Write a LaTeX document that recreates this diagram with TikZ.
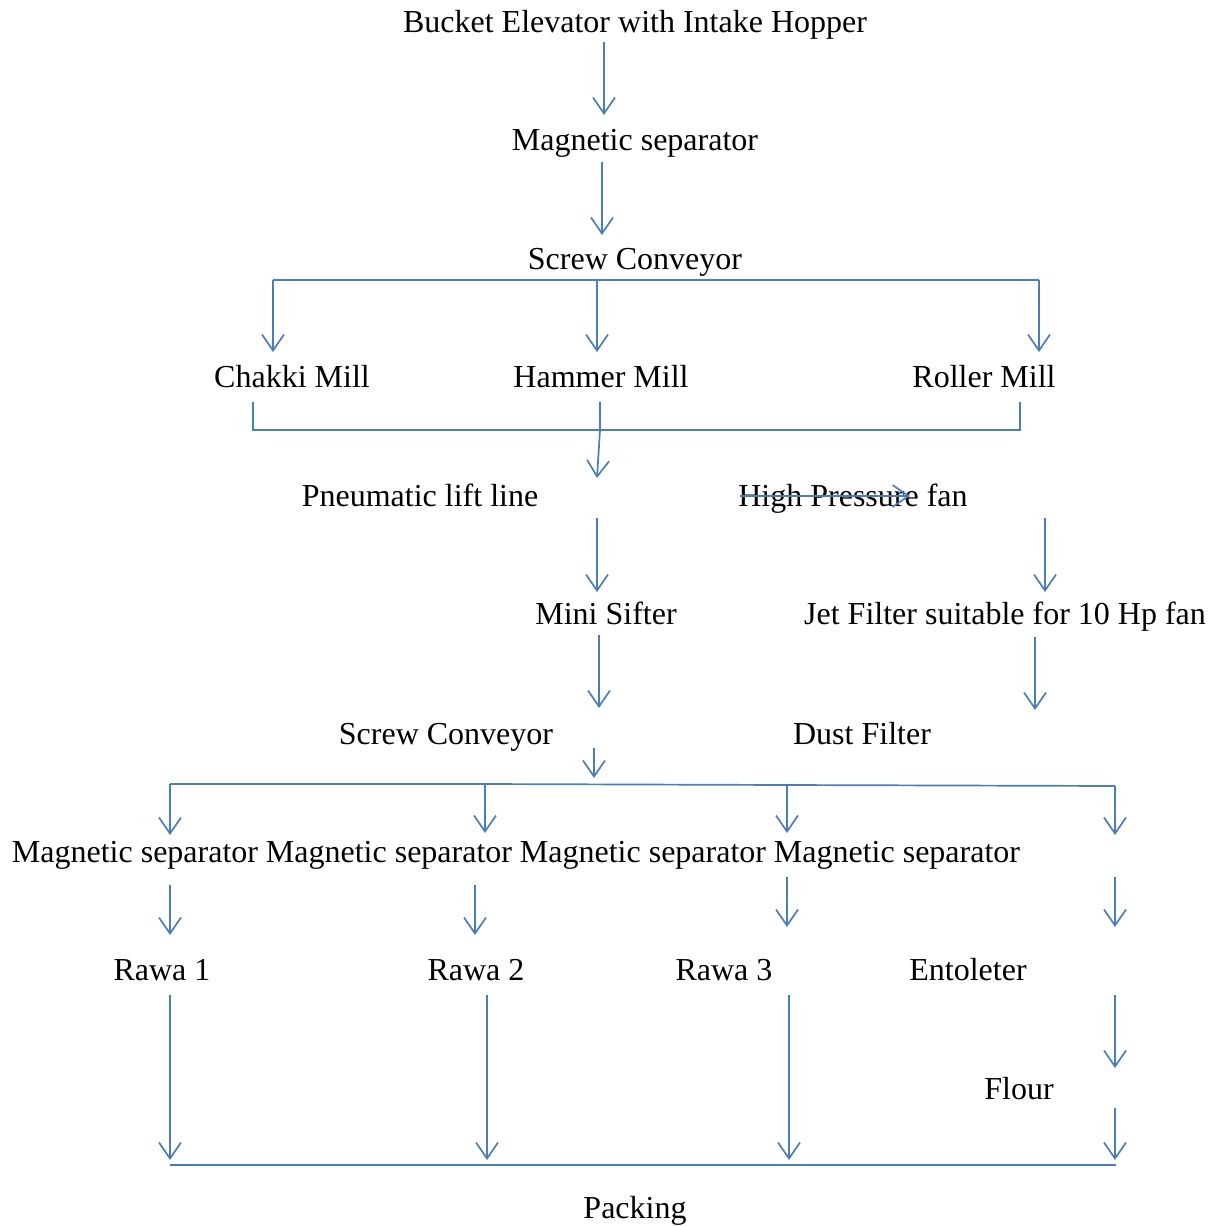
\documentclass[tikz,border=0pt]{standalone}
\usepackage{fontspec}
\setmainfont{Liberation Serif}
\usetikzlibrary{arrows.meta}
\definecolor{flowblue}{RGB}{74,126,187}

\begin{document}
\begin{tikzpicture}[x=1pt,y=-1pt]
\tikzset{
  stepnode/.style={anchor=base,inner sep=0pt,font=\fontsize{32}{38}\selectfont},
  flowline/.style={draw=flowblue,line width=1.7pt,line cap=butt},
  flowarrow/.style={flowline,-{Straight Barb[length=16pt,width=22pt,line width=1.7pt]}}
}
\useasboundingbox (0,0) rectangle (1212,1226);
% process steps
\node[stepnode] (n_bucket) at (635,32) {Bucket Elevator with Intake Hopper};
\node[stepnode] (n_magsep) at (635,150) {Magnetic separator};
\node[stepnode] (n_screw1) at (635,269) {Screw Conveyor};
\node[stepnode] (n_chakki) at (292,387) {Chakki Mill};
\node[stepnode] (n_hammer) at (601,387) {Hammer Mill};
\node[stepnode] (n_roller) at (984,387) {Roller Mill};
\node[stepnode] (n_pneu) at (420,506) {Pneumatic lift line};
\node[stepnode] (n_fan) at (853,506) {High Pressure fan};
\node[stepnode] (n_sifter) at (606,624) {Mini Sifter};
\node[stepnode] (n_jet) at (1005,624) {Jet Filter suitable for 10 Hp fan};
\node[stepnode] (n_screw2) at (446,744) {Screw Conveyor};
\node[stepnode] (n_dust) at (862,744) {Dust Filter};
\node[stepnode] (n_ms1) at (135,862) {Magnetic separator};
\node[stepnode] (n_ms2) at (389,862) {Magnetic separator};
\node[stepnode] (n_ms3) at (643,862) {Magnetic separator};
\node[stepnode] (n_ms4) at (897,862) {Magnetic separator};
\node[stepnode] (n_rawa1) at (162,980) {Rawa 1};
\node[stepnode] (n_rawa2) at (476,980) {Rawa 2};
\node[stepnode] (n_rawa3) at (724,980) {Rawa 3};
\node[stepnode] (n_ent) at (968,980) {Entoleter};
\node[stepnode] (n_flour) at (1019,1099) {Flour};
\node[stepnode] (n_pack) at (635,1218) {Packing};
% connector ends
\coordinate (c_a1) at (604,42);   \coordinate (c_a2) at (604,115);
\coordinate (c_b1) at (602,162);  \coordinate (c_b2) at (602,235);
\coordinate (c_sl) at (273,280);  \coordinate (c_sm) at (597,280);  \coordinate (c_sr) at (1039,280);
\coordinate (c_chakki) at (273,352); \coordinate (c_hammer) at (597,352); \coordinate (c_roller) at (1039,352);
\coordinate (c_ml1) at (253,402); \coordinate (c_ml2) at (253,430);
\coordinate (c_mm1) at (600,402); \coordinate (c_mm2) at (600,430);
\coordinate (c_mr1) at (1020,402); \coordinate (c_mr2) at (1020,430);
\coordinate (c_pneu) at (597,478);
\coordinate (c_fan1) at (740,496); \coordinate (c_fan2) at (910,496);
\coordinate (c_p1) at (597,518);  \coordinate (c_p2) at (597,592);
\coordinate (c_j1) at (1045,518); \coordinate (c_j2) at (1045,592);
\coordinate (c_s1) at (599,635);  \coordinate (c_s2) at (599,708);
\coordinate (c_d1) at (1035,637); \coordinate (c_d2) at (1035,710);
\coordinate (c_sc1) at (594,748); \coordinate (c_sc2) at (594,778);
\coordinate (c_h1) at (170,784);  \coordinate (c_h2) at (485,784);
\coordinate (c_h3) at (787,785);  \coordinate (c_h4) at (1115,786);
\coordinate (c_ms1) at (170,835); \coordinate (c_ms2) at (485,833);
\coordinate (c_ms3) at (787,833); \coordinate (c_ms4) at (1115,835);
\coordinate (c_r1a) at (170,885); \coordinate (c_r1b) at (170,935);
\coordinate (c_r2a) at (475,885); \coordinate (c_r2b) at (475,935);
\coordinate (c_r3a) at (787,877); \coordinate (c_r3b) at (787,927);
\coordinate (c_r4a) at (1115,877); \coordinate (c_r4b) at (1115,927);
\coordinate (c_k1a) at (170,995); \coordinate (c_k1b) at (170,1160);
\coordinate (c_k2a) at (487,995); \coordinate (c_k2b) at (487,1160);
\coordinate (c_k3a) at (789,995); \coordinate (c_k3b) at (789,1160);
\coordinate (c_k4a) at (1115,995); \coordinate (c_k4b) at (1115,1068);
\coordinate (c_k5a) at (1115,1108); \coordinate (c_k5b) at (1115,1160);
\coordinate (c_bl) at (170,1165); \coordinate (c_br) at (1116,1165);
% connectors
\draw[flowarrow] (c_a1) -- (c_a2);
\draw[flowarrow] (c_b1) -- (c_b2);
\draw[flowline] (c_sl) -- (c_sr);
\draw[flowarrow] (c_sl) -- (c_chakki);
\draw[flowarrow] (c_sm) -- (c_hammer);
\draw[flowarrow] (c_sr) -- (c_roller);
\draw[flowline] (c_ml1) -- (c_ml2) -- (c_mr2) -- (c_mr1);
\draw[flowline] (c_mm1) -- (c_mm2);
\draw[flowarrow] (c_mm2) -- (c_pneu);
\draw[flowarrow] (c_fan1) -- (c_fan2);
\draw[flowarrow] (c_p1) -- (c_p2);
\draw[flowarrow] (c_j1) -- (c_j2);
\draw[flowarrow] (c_s1) -- (c_s2);
\draw[flowarrow] (c_d1) -- (c_d2);
\draw[flowarrow] (c_sc1) -- (c_sc2);
\draw[flowline] (c_h1) -- (c_h2) -- (c_h3) -- (c_h4);
\draw[flowarrow] (c_h1) -- (c_ms1);
\draw[flowarrow] (c_h2) -- (c_ms2);
\draw[flowarrow] (c_h3) -- (c_ms3);
\draw[flowarrow] (c_h4) -- (c_ms4);
\draw[flowarrow] (c_r1a) -- (c_r1b);
\draw[flowarrow] (c_r2a) -- (c_r2b);
\draw[flowarrow] (c_r3a) -- (c_r3b);
\draw[flowarrow] (c_r4a) -- (c_r4b);
\draw[flowarrow] (c_k1a) -- (c_k1b);
\draw[flowarrow] (c_k2a) -- (c_k2b);
\draw[flowarrow] (c_k3a) -- (c_k3b);
\draw[flowarrow] (c_k4a) -- (c_k4b);
\draw[flowarrow] (c_k5a) -- (c_k5b);
\draw[flowline,line width=2.4pt] (c_bl) -- (c_br);
\end{tikzpicture}
\end{document}
